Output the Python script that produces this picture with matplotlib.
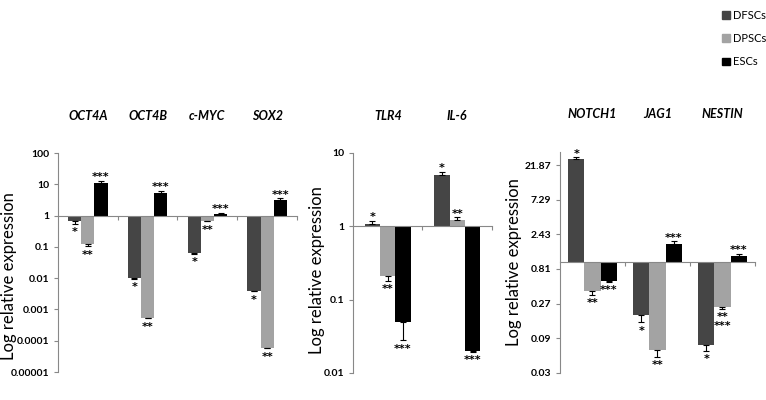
import matplotlib
matplotlib.use('Agg')
import matplotlib.pyplot as plt
from matplotlib.patches import Patch

# ---- data ----
series = ['DFSCs', 'DPSCs', 'ESCs']
colors = ['#454545', '#a3a3a3', '#000000']

genes_a = ['OCT4A', 'OCT4B', 'c-MYC', 'SOX2']
dfsc_a  = [0.66, 0.010, 0.062, 0.0040]
dpsc_a  = [0.12, 0.00055, 0.69, 0.00006]
esc_a   = [11.0, 5.2, 1.12, 3.2]
err_a   = [[0.12, 0.0004, 0.002, 0.0002],
           [0.015, 0.00003, 0.04, 0.000003],
           [2.2, 1.0, 0.08, 0.4]]

genes_b = ['TLR4', 'IL-6']
dfsc_b  = [1.08, 5.0]
dpsc_b  = [0.21, 1.23]
esc_b   = [0.05, 0.02]
err_b   = [[0.12, 0.5],
           [0.03, 0.1],
           [0.022, 0.0005]]

genes_c = ['NOTCH1', 'JAG1', 'NESTIN']
dfsc_c  = [27.0, 0.19, 0.073]
dpsc_c  = [0.40, 0.062, 0.24]
esc_c   = [0.56, 1.8, 1.22]
err_c   = [[1.2, 0.04, 0.013],
           [0.04, 0.012, 0.01],
           [0.02, 0.15, 0.1]]

stars = ['*', '**', '***']
ticks_c = [0.03, 0.09, 0.27, 0.81, 2.43, 7.29, 21.87]
tick_labels_c = ['0.03', '0.09', '0.27', '0.81', '2.43', '7.29', '21.87']

plt.rcParams['font.family'] = ['Lato', 'DejaVu Sans']

fig = plt.figure(figsize=(7.66, 4.0), dpi=100)
ax1 = fig.add_axes([0.0757, 0.07, 0.312, 0.5475])
ax2 = fig.add_axes([0.4608, 0.0675, 0.1815, 0.55])
ax3 = fig.add_axes([0.731, 0.068, 0.2546, 0.5525])


def panel(ax, genes, vals, errs, width, ylim, star_override=None):
    ax.set_yscale('log')
    n = len(genes)
    for s in range(3):
        for i in range(n):
            v = vals[s][i]
            e = errs[s][i]
            x = i + (s - 1) * width
            ax.bar(x, v - 1, bottom=1, width=width, color=colors[s], zorder=2)
            if v >= 1:
                ax.errorbar(x, v, yerr=[[0], [e]], color='black', capsize=2,
                            elinewidth=0.8, capthick=0.8, zorder=3)
                ax.annotate(stars[s], (x, v + e), xytext=(0, -1),
                            textcoords='offset points', ha='center', va='bottom',
                            fontsize=8, fontweight='bold', family='DejaVu Sans')
            else:
                ax.errorbar(x, v, yerr=[[e], [0]], color='black', capsize=2,
                            elinewidth=0.8, capthick=0.8, zorder=3)
                lab = stars[s]
                if star_override and (s, i) in star_override:
                    lab = star_override[(s, i)]
                ax.annotate(lab, (x, v - e), xytext=(0, -2.5),
                            textcoords='offset points', ha='center', va='top',
                            fontsize=8, fontweight='bold', linespacing=0.8,
                            family='DejaVu Sans')
    for i in range(n):
        ax.annotate(genes[i], xy=(i, 1.17), xycoords=('data', 'axes fraction'),
                    ha='center', va='center', fontsize=9, style='italic',
                    fontweight='bold')
    ax.set_xlim(-0.5, n - 0.5)
    ax.set_ylim(*ylim)
    ax.spines['top'].set_visible(False)
    ax.spines['right'].set_visible(False)
    ax.spines['bottom'].set_position(('data', 1))
    ax.spines['bottom'].set_color('#888888')
    ax.spines['left'].set_color('#888888')
    ax.set_xticks([i + 0.5 for i in range(n)])
    ax.set_xticklabels([])
    ax.tick_params(axis='x', length=3, direction='out', color='#888888')
    ax.tick_params(axis='y', which='major', length=3, color='#888888',
                   labelsize=7.5)
    ax.tick_params(axis='y', which='minor', left=False)
    ax.set_ylabel('Log relative expression', fontsize=12)


panel(ax1, genes_a, [dfsc_a, dpsc_a, esc_a], err_a, 0.22, (1e-5, 100))
ax1.set_yticks([1e-5, 1e-4, 1e-3, 1e-2, 0.1, 1, 10, 100])
ax1.set_yticklabels(['0.00001', '0.0001', '0.001', '0.01', '0.1', '1', '10', '100'],
                    fontweight='bold')
ax1.yaxis.set_label_coords(-0.172, 0.44)

panel(ax2, genes_b, [dfsc_b, dpsc_b, esc_b], err_b, 0.22, (0.01, 10))
ax2.set_yticks([0.01, 0.1, 1, 10])
ax2.set_yticklabels(['0.01', '0.1', '1', '10'], fontweight='bold')
ax2.yaxis.set_label_coords(-0.2, 0.47)

panel(ax3, genes_c, [dfsc_c, dpsc_c, esc_c], err_c, 0.25, (0.03, 33.4),
      star_override={(1, 2): '**\n***'})
ax3.set_yticks(ticks_c)
ax3.set_yticklabels(tick_labels_c, fontweight='bold')
ax3.yaxis.set_label_coords(-0.195, 0.5)

handles = [Patch(color=c) for c in colors]
fig.legend(handles, series, loc='upper left', bbox_to_anchor=(0.93, 1.0),
           frameon=False, fontsize=8, handlelength=0.7, handleheight=0.7,
           handletextpad=0.3, labelspacing=1.1)

fig.savefig('out.png', dpi=100)
plt.close(fig)
